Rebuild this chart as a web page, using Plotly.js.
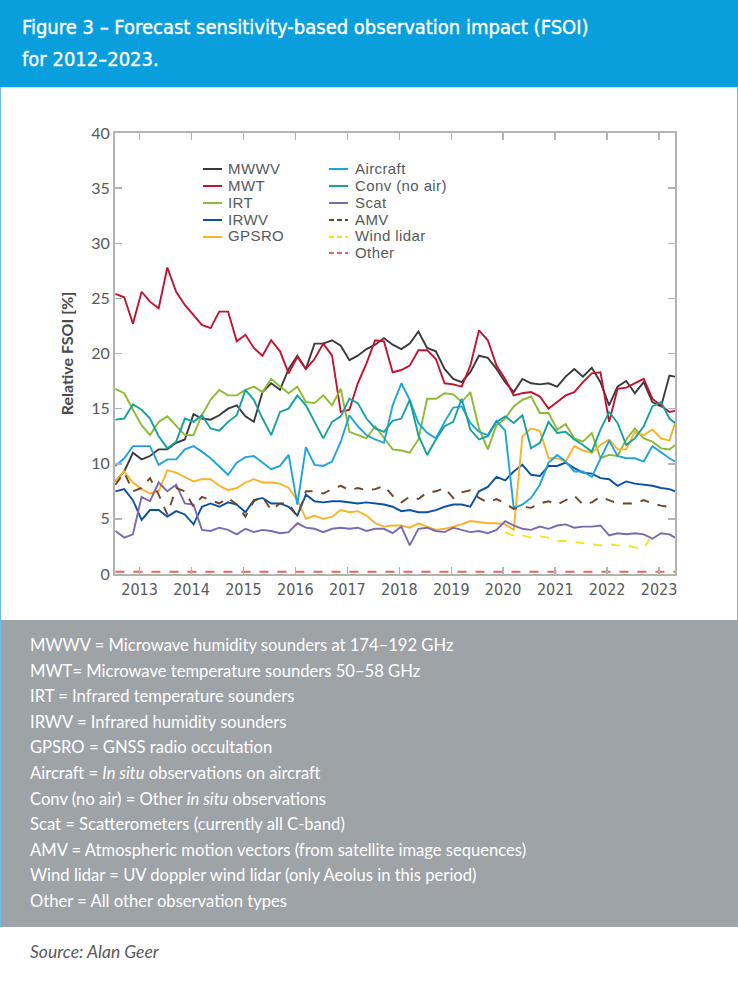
<!DOCTYPE html>
<html>
<head>
<meta charset="utf-8">
<script src="https://cdn.plot.ly/plotly-3.0.1.min.js"></script>
<style>
  body { margin: 0; background: #ffffff; }
  #page { position: relative; width: 738px; height: 986px; overflow: hidden; background: #ffffff; }
  #header { position: absolute; left: 0; top: 0; width: 738px; height: 87px; background: #089fdc; }
  #title { position: absolute; left: 22px; top: 11px; color: #ffffff; white-space: nowrap;
           font-family: "Liberation Sans Narrow", "DejaVu Sans Condensed", sans-serif; font-size: 20px; line-height: 32px;
           -webkit-text-stroke: 0.35px #ffffff; }
  #frame { position: absolute; left: 0; top: 87px; width: 738px; height: 840px; border: 1px solid #6cbde6; border-top: 1px solid #bfe4f6; box-sizing: border-box; }
  #chart { position: absolute; left: 0; top: 88px; width: 738px; height: 532px; }
  #key { position: absolute; left: 0; top: 0; width: 738px; height: 0; }
  #key .row { position: absolute; height: 16.8px; line-height: 16.8px; white-space: nowrap;
              font-family: "Liberation Sans", Arimo, sans-serif; font-size: 15px; letter-spacing: 0.4px; color: #58595b; }
  #key .sample { position: absolute; top: 7.4px; height: 2px; }
  #notes { position: absolute; left: 1px; top: 620px; width: 736px; height: 307px; background: #9ea3a8; }
  #notes div { position: absolute; left: 29px; color: #ffffff; white-space: nowrap;
               font-family: Lato, "Noto Sans", sans-serif; font-size: 16.6px; line-height: 20px; }
  #source { position: absolute; left: 30px; top: 941px; color: #58595b; font-style: italic;
            font-family: Lato, "Noto Sans", sans-serif; font-size: 17.5px; line-height: 22px; }
</style>
</head>
<body>
<div id="page">
  <div id="header"><div id="title">Figure 3 – Forecast sensitivity-based observation impact (FSOI)<br>for 2012–2023.</div></div>
  <div id="frame"></div>
  <div id="chart"></div>
  <div id="key"></div>
  <div id="notes"></div>
  <div id="source">Source: Alan Geer</div>
</div>
<script>
// ---------- data (bimonthly samples, Jul 2012 – Apr 2023) ----------
const dates = [];
for (let i = 0; i < 65; i++) {
  const m = 6 + 2 * i;
  const y = 2012 + Math.floor(m / 12);
  const mo = (m % 12) + 1;
  dates.push(y + '-' + String(mo).padStart(2, '0') + '-15');
}
dates.push('2023-04-23');

const MWWV = [8.4, 9.3, 11.0, 10.4, 10.7, 11.3, 11.3, 11.9, 12.2, 14.5,
  14.1, 14.0, 14.4, 15.0, 15.3, 14.3, 13.8, 16.5, 17.3, 16.7,
  18.6, 19.8, 18.6, 20.9, 20.9, 21.2, 20.7, 19.4, 19.8, 20.4,
  20.8, 21.4, 20.8, 20.4, 20.9, 22.0, 20.5, 20.2, 18.6, 17.7,
  17.4, 18.3, 19.8, 19.6, 18.6, 17.4, 16.5, 17.7, 17.3, 17.2,
  17.3, 17.0, 17.9, 18.6, 17.9, 18.7, 17.4, 15.3, 17.0, 17.5,
  16.4, 17.4, 15.6, 15.2, 18.0, 17.9];
const MWT = [25.4, 25.1, 22.7, 25.6, 24.7, 24.1, 27.8, 25.6, 24.4, 23.5,
  22.6, 22.3, 23.8, 23.8, 21.1, 21.7, 20.5, 19.8, 21.2, 20.2,
  18.2, 19.7, 18.6, 19.5, 20.9, 19.8, 14.7, 14.9, 17.3, 19.1,
  21.2, 21.1, 18.3, 18.5, 18.9, 20.3, 20.3, 19.5, 17.3, 17.2,
  17.0, 18.9, 22.1, 21.2, 18.9, 17.7, 16.2, 16.4, 16.5, 16.1,
  15.0, 15.6, 16.2, 16.5, 17.4, 18.2, 18.3, 13.8, 16.8, 16.9,
  17.3, 17.7, 15.9, 15.3, 14.7, 14.8];
const IRT = [16.8, 16.4, 14.9, 13.5, 12.6, 13.8, 14.3, 13.4, 12.6, 12.6,
  14.4, 15.8, 16.7, 16.2, 16.2, 16.7, 17.0, 16.5, 17.7, 17.0,
  16.4, 17.0, 15.6, 15.5, 16.2, 15.3, 16.8, 12.9, 12.6, 12.3,
  13.4, 12.3, 11.3, 11.2, 11.0, 12.2, 15.9, 15.9, 16.4, 16.3,
  15.6, 16.5, 13.2, 11.3, 13.5, 14.1, 15.2, 15.8, 16.1, 14.6,
  14.6, 13.1, 13.6, 12.3, 12.0, 12.8, 10.5, 10.8, 10.7, 12.2,
  13.2, 12.3, 12.0, 11.4, 11.3, 11.7];
const IRWV = [7.5, 7.7, 6.7, 4.9, 5.8, 5.8, 5.2, 5.7, 5.4, 4.5,
  6.1, 6.4, 6.1, 6.5, 6.3, 5.6, 6.7, 6.9, 6.4, 6.4,
  6.1, 5.3, 7.2, 6.6, 6.5, 6.6, 6.6, 6.5, 6.4, 6.5,
  6.4, 6.3, 6.1, 5.7, 5.8, 5.6, 5.6, 5.8, 6.1, 6.3,
  6.3, 6.1, 7.5, 7.9, 8.8, 8.5, 9.3, 9.9, 9.0, 8.9,
  9.8, 9.8, 10.1, 9.6, 9.2, 9.1, 8.7, 8.6, 8.0, 8.4,
  8.2, 8.1, 8.0, 7.8, 7.7, 7.5];
const GPSRO = [8.4, 9.3, 8.3, 7.7, 7.3, 7.5, 9.4, 9.2, 8.8, 8.4,
  8.6, 8.6, 8.0, 7.6, 7.8, 8.3, 8.6, 8.3, 8.3, 8.2,
  7.8, 6.7, 5.0, 5.3, 5.0, 5.2, 5.8, 5.6, 5.7, 5.3,
  4.6, 4.3, 4.4, 4.4, 4.2, 4.6, 4.3, 4.0, 4.1, 4.3,
  4.5, 4.8, 4.7, 4.6, 4.6, 4.5, 4.0, 12.5, 13.2, 13.0,
  10.5, 10.5, 10.2, 11.6, 11.2, 11.0, 11.7, 12.2, 11.3, 11.3,
  12.9, 12.6, 13.1, 12.3, 12.1, 13.7];
const Aircraft = [9.8, 10.5, 11.6, 11.6, 11.6, 9.9, 10.4, 10.4, 11.3, 11.6,
  11.1, 10.5, 9.8, 9.0, 10.1, 10.6, 10.7, 10.1, 9.5, 9.8,
  10.8, 6.3, 11.5, 9.9, 9.8, 10.2, 12.0, 14.4, 13.4, 12.6,
  12.2, 11.9, 15.3, 17.3, 15.8, 13.7, 12.8, 12.3, 13.8, 15.1,
  15.2, 13.7, 12.9, 12.6, 13.9, 13.0, 6.0, 6.3, 6.9, 8.1,
  10.1, 10.8, 10.2, 9.3, 9.3, 8.8, 10.5, 12.1, 10.7, 10.5,
  10.5, 10.2, 11.6, 11.0, 10.5, 10.2];
const ConvNoAir = [14.0, 14.1, 15.4, 14.9, 14.1, 12.5, 11.4, 12.0, 14.1, 13.8,
  14.4, 13.2, 13.0, 13.8, 14.4, 16.7, 15.8, 14.1, 12.6, 14.7,
  15.0, 16.2, 15.3, 13.8, 12.3, 13.8, 14.3, 15.9, 15.5, 14.1,
  13.2, 12.9, 13.9, 14.1, 15.8, 12.6, 10.8, 12.2, 13.4, 13.8,
  15.9, 13.1, 12.2, 12.5, 13.8, 14.3, 13.7, 14.4, 11.4, 11.9,
  13.8, 12.8, 12.9, 12.2, 11.7, 11.1, 13.1, 14.7, 13.7, 11.7,
  12.3, 13.4, 15.2, 15.6, 14.1, 13.7];
const Scat = [3.9, 3.3, 3.6, 7.0, 6.6, 8.3, 7.5, 8.1, 6.4, 6.3,
  4.0, 3.9, 4.2, 4.0, 3.6, 4.1, 3.8, 4.0, 3.9, 3.7,
  3.8, 4.6, 4.2, 4.1, 3.8, 4.1, 4.2, 4.1, 4.2, 3.9,
  4.1, 4.1, 3.7, 4.3, 2.6, 4.1, 4.2, 3.9, 3.8, 4.2,
  4.0, 3.8, 3.9, 3.7, 4.0, 4.8, 4.4, 4.1, 4.0, 4.3,
  4.1, 4.4, 4.5, 4.2, 4.3, 4.3, 4.4, 3.5, 3.7, 3.6,
  3.7, 3.6, 3.2, 3.7, 3.6, 3.3];
const AMV = [8.1, 9.2, 7.5, 7.8, 8.7, 7.2, 5.4, 7.8, 7.5, 6.1,
  7.0, 6.7, 6.4, 6.9, 6.3, 5.2, 6.6, 7.0, 5.8, 6.4,
  6.4, 5.2, 7.5, 7.5, 7.3, 7.7, 8.0, 7.6, 7.8, 7.6,
  7.7, 8.0, 7.1, 6.5, 7.0, 6.8, 7.4, 7.5, 7.8, 6.9,
  7.4, 7.6, 6.9, 6.5, 6.8, 6.4, 5.9, 6.1, 6.0, 6.4,
  6.6, 6.3, 6.7, 7.1, 6.3, 6.5, 7.0, 6.7, 6.4, 6.4,
  6.4, 6.7, 6.4, 6.2, 6.1, 6.0];
const WindLidar = [null, null, null, null, null, null, null, null, null, null,
  null, null, null, null, null, null, null, null, null, null,
  null, null, null, null, null, null, null, null, null, null,
  null, null, null, null, null, null, null, null, null, null,
  null, null, null, null, null, 3.8, 3.5, 3.5, 3.3, 3.4,
  3.3, 3.0, 3.0, 2.9, 2.8, 2.7, 2.6, 2.7, 2.6, 2.6,
  2.4, 2.3, 3.6, null, null, null];
const Other = [0.2, 0.2, 0.2, 0.2, 0.2, 0.2, 0.2, 0.2, 0.2, 0.2,
  0.2, 0.2, 0.2, 0.2, 0.2, 0.2, 0.2, 0.2, 0.2, 0.2,
  0.2, 0.2, 0.2, 0.2, 0.2, 0.2, 0.2, 0.2, 0.2, 0.2,
  0.2, 0.2, 0.2, 0.2, 0.2, 0.2, 0.2, 0.2, 0.2, 0.2,
  0.2, 0.2, 0.2, 0.2, 0.2, 0.2, 0.2, 0.2, 0.2, 0.2,
  0.2, 0.2, 0.2, 0.2, 0.2, 0.2, 0.2, 0.2, 0.2, 0.2,
  0.2, 0.2, 0.2, 0.2, 0.2, 0.2];

const yearTicks = ['2013', '2014', '2015', '2016', '2017', '2018', '2019', '2020', '2021', '2022', '2023'];

const noteLines = [
  'MWWV = Microwave humidity sounders at 174–192 GHz',
  'MWT= Microwave temperature sounders 50–58 GHz',
  'IRT = Infrared temperature sounders',
  'IRWV = Infrared humidity sounders',
  'GPSRO = GNSS radio occultation',
  'Aircraft = <i>In situ</i> observations on aircraft',
  'Conv (no air) = Other <i>in situ</i> observations',
  'Scat = Scatterometers (currently all C-band)',
  'AMV = Atmospheric motion vectors (from satellite image sequences)',
  'Wind lidar = UV doppler wind lidar (only Aeolus in this period)',
  'Other = All other observation types'
];

// ---------- notes box ----------
const notes = document.getElementById('notes');
noteLines.forEach(function (t, k) {
  const d = document.createElement('div');
  d.innerHTML = t;
  d.style.top = (15 + k * 25.6) + 'px';
  notes.appendChild(d);
});

// ---------- traces ----------
const series = [
  { name: 'MWWV', y: MWWV, color: '#3a3a3c', dash: 'solid' },
  { name: 'MWT', y: MWT, color: '#c4122f', dash: 'solid' },
  { name: 'IRT', y: IRT, color: '#8dbb2f', dash: 'solid' },
  { name: 'IRWV', y: IRWV, color: '#0c52a2', dash: 'solid' },
  { name: 'GPSRO', y: GPSRO, color: '#fbb325', dash: 'solid' },
  { name: 'Aircraft', y: Aircraft, color: '#1ea3df', dash: 'solid' },
  { name: 'Conv (no air)', y: ConvNoAir, color: '#15a29f', dash: 'solid' },
  { name: 'Scat', y: Scat, color: '#7b69b1', dash: 'solid' },
  { name: 'AMV', y: AMV, color: '#6e4526', dash: 'dash' },
  { name: 'Wind lidar', y: WindLidar, color: '#f4e31c', dash: 'dash' },
  { name: 'Other', y: Other, color: '#e9654f', dash: 'dash' }
];

const traces = series.map(function (s) {
  return {
    type: 'scatter', mode: 'lines', name: s.name, x: dates, y: s.y,
    line: { color: s.color, width: 1.9, dash: s.dash },
    showlegend: false, connectgaps: false, hoverinfo: 'x+y+name'
  };
});

// ---------- two-column key (HTML overlay, page pixels) ----------
const keyCols = [ { lx: 203, tx: 228 }, { lx: 329, tx: 355 } ];
const keyTop = 169.5, keyStep = 16.8;
const keyEl = document.getElementById('key');
series.forEach(function (s, k) {
  const col = k < 5 ? keyCols[0] : keyCols[1];
  const row = k < 5 ? k : k - 5;
  const r = document.createElement('div');
  r.className = 'row';
  r.style.left = col.lx + 'px';
  r.style.top = (keyTop + row * keyStep - keyStep / 2) + 'px';
  const smp = document.createElement('span');
  smp.className = 'sample';
  smp.style.left = '0px';
  smp.style.width = '19px';
  smp.style.background = s.dash === 'dash'
    ? 'repeating-linear-gradient(to right, ' + s.color + ' 0px, ' + s.color + ' 5px, transparent 5px, transparent 8px)'
    : s.color;
  const txt = document.createElement('span');
  txt.style.position = 'absolute';
  txt.style.left = (col.tx - col.lx) + 'px';
  txt.textContent = s.name;
  r.appendChild(smp);
  r.appendChild(txt);
  keyEl.appendChild(r);
});

const axisGrey = '#b3b3b3';
const textGrey = '#58595b';

const layout = {
  width: 738, height: 532,
  margin: { l: 115, r: 63, t: 45, b: 46 },
  paper_bgcolor: 'rgba(0,0,0,0)', plot_bgcolor: '#ffffff',
  showlegend: false,
  xaxis: {
    type: 'date', range: ['2012-07-12', '2023-04-23'],
    tickvals: yearTicks.map(function (y) { return y + '-01-01'; }), ticktext: yearTicks,
    ticks: 'inside', ticklen: 7, tickwidth: 1.5, tickcolor: axisGrey,
    showline: true, linecolor: axisGrey, linewidth: 2, mirror: 'ticks',
    showgrid: false, zeroline: false,
    tickfont: { family: '"Liberation Sans Narrow", "DejaVu Sans Condensed", sans-serif', size: 16, color: textGrey }
  },
  yaxis: {
    range: [0, 40], dtick: 5, tick0: 0,
    ticks: 'inside', ticklen: 7, tickwidth: 1.5, tickcolor: axisGrey,
    showline: true, linecolor: axisGrey, linewidth: 2, mirror: 'ticks',
    showgrid: false, zeroline: false,
    tickfont: { family: 'Lato, "Noto Sans", sans-serif', size: 16, color: textGrey },
    title: { text: 'Relative FSOI [%]', standoff: 14,
             font: { family: 'Lato, "Noto Sans", sans-serif', size: 16, color: '#4a4a4c', weight: 'bold' } }
  }
};

Plotly.newPlot('chart', traces, layout, { displayModeBar: false, staticPlot: true });
</script>
</body>
</html>
